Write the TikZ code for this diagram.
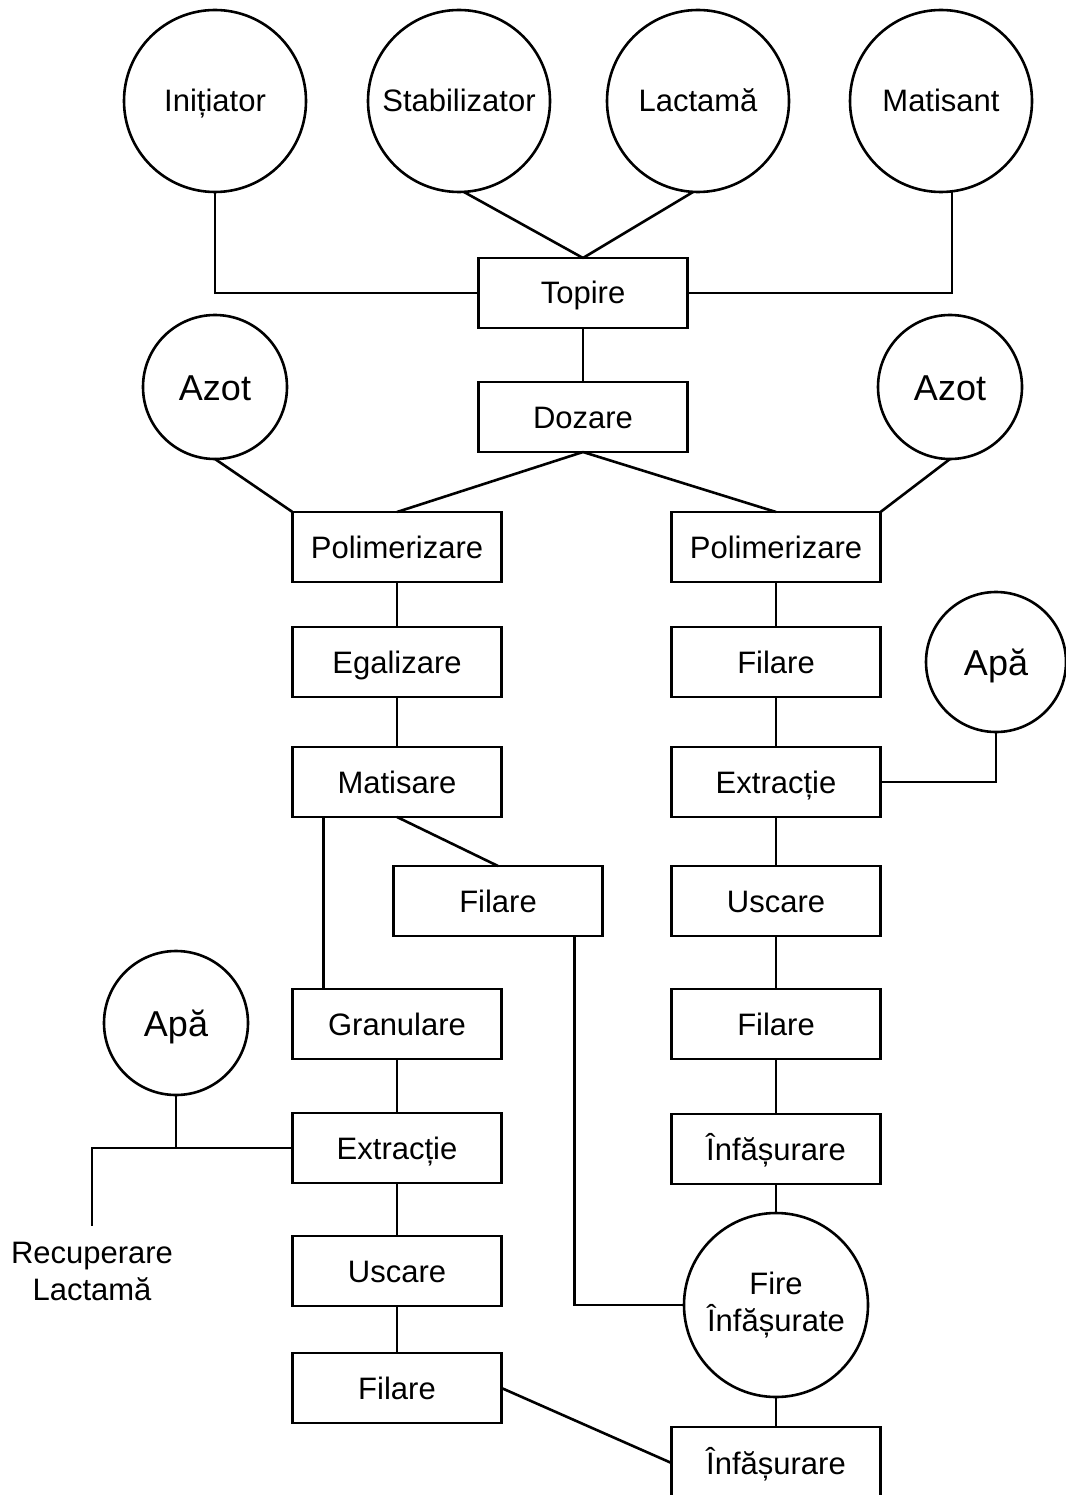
\documentclass[tikz,border=0pt]{standalone}
\usepackage{fontspec}
\setmainfont{Liberation Sans}
\begin{document}
\begin{tikzpicture}[x=1pt,y=-1pt,
  every node/.style={font=\fontsize{31}{37}\selectfont, inner sep=0pt, outer sep=0pt},
  captext/.style={text height=22pt, text depth=0pt},
  proc/.style={draw, captext, line width=2.6pt, minimum width=209pt, minimum height=70pt},
  bigc/.style={draw, captext, circle, line width=2.6pt, minimum size=182pt},
  smallc/.style={draw, circle, line width=2.6pt, minimum size=144pt, font=\fontsize{36}{40}\selectfont, text height=26pt, text depth=0pt},
  link/.style={line width=2.6pt}]
\fill[white] (0,0) rectangle (1065,1495);
\useasboundingbox (0,0) rectangle (1065,1495);
% top inputs
\node[bigc] (ini) at (215,101) {Inițiator};
\node[bigc] (stab) at (459,101) {Stabilizator};
\node[bigc] (lact) at (698,101) {Lactamă};
\node[bigc] (mat) at (941,101) {Matisant};
\node[proc] (topire) at (583,293) {Topire};
\node[proc] (dozare) at (583,417) {Dozare};
\node[smallc] (azotL) at (215,387) {Azot};
\node[smallc] (azotR) at (950,387) {Azot};
\node[proc] (polL) at (397,547) {Polimerizare};
\node[proc] (polR) at (776,547) {Polimerizare};
% left column
\node[proc] (egal) at (397,662) {Egalizare};
\node[proc] (matis) at (397,782) {Matisare};
\node[proc] (filM) at (498,901) {Filare};
\node[proc] (gran) at (397,1024) {Granulare};
\node[proc] (extL) at (397,1148) {Extracție};
\node[proc] (uscL) at (397,1271) {Uscare};
\node[proc] (filL) at (397,1388) {Filare};
\node[smallc, minimum size=144pt] (apaL) at (176,1023) {Apă};
\node[align=center] (recup) at (92,1271) {Recuperare\\Lactamă};
\coordinate (rc) at (92,1226);
% right column
\node[proc] (filR) at (776,662) {Filare};
\node[proc] (extR) at (776,782) {Extracție};
\node[proc] (uscR) at (776,901) {Uscare};
\node[proc] (filR2) at (776,1024) {Filare};
\node[proc] (infR) at (776,1149) {Înfășurare};
\node[draw, circle, line width=2.6pt, minimum size=184pt, align=center] (fire) at (776,1305) {Fire\\Înfășurate};
\node[proc, minimum height=72pt] (infB) at (776,1463) {Înfășurare};
\node[smallc, minimum size=140pt] (apaR) at (996,662) {Apă};
% connectors
\draw[link] (ini.south) |- (topire.west);
\draw[link] (mat.-83) |- (topire.east);
\draw[link] (stab.-87) -- (topire.north);
\draw[link] (lact.-93) -- (topire.north);
\draw[link] (topire.south) -- (dozare.north);
\draw[link] (dozare.south) -- (polL.north);
\draw[link] (dozare.south) -- (polR.north);
\draw[link] (azotL.south) -- (polL.north west);
\draw[link] (azotR.south) -- (polR.north east);
\draw[link] (polL.south) -- (egal.north);
\draw[link] (egal.south) -- (matis.north);
\draw[link] ([xshift=31pt]matis.south west) -- ([xshift=31pt]gran.north west);
\draw[link] (matis.south) -- (filM.north);
\draw[link] ([xshift=-28pt]filM.south east) |- (fire.west);
\draw[link] (gran.south) -- (extL.north);
\draw[link] (extL.south) -- (uscL.north);
\draw[link] (uscL.south) -- (filL.north);
\draw[link] (apaL.south) -- (apaL.south |- extL.west);
\draw[link] (extL.west) -| (rc);
\draw[link] (filL.east) -- (infB.west);
\draw[link] (polR.south) -- (filR.north);
\draw[link] (filR.south) -- (extR.north);
\draw[link] (extR.south) -- (uscR.north);
\draw[link] (uscR.south) -- (filR2.north);
\draw[link] (filR2.south) -- (infR.north);
\draw[link] (infR.south) -- (fire.north);
\draw[link] (fire.south) -- (infB.north);
\draw[link] (extR.east) -| (apaR.south);
\end{tikzpicture}
\end{document}
